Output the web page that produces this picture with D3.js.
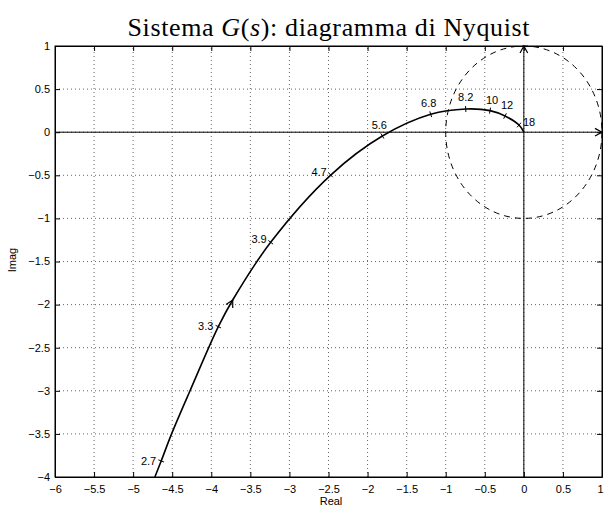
<!DOCTYPE html>
<html>
<head>
<meta charset="utf-8">
<script src="https://cdn.jsdelivr.net/npm/d3@7"></script>
<style>
    body { margin: 0; background: #fff; }
    text { font-family: "Liberation Sans", Arial, sans-serif; }
</style>
</head>
<body>
<div id="chart"></div>
<script>

/*
Data
 */

// frequency marks on the Nyquist curve
var freqLabels = ["2.7", "3.3", "3.9", "4.7", "5.6", "6.8", "8.2", "10", "12", "18"];
var freqRe = [-4.641, -3.910, -3.240, -2.472, -1.811, -1.192, -0.744, -0.433, -0.241, -0.062];
var freqIm = [-3.814, -2.256, -1.277, -0.497, -0.044, 0.208, 0.269, 0.250, 0.188, 0.083];

// points read along the curve itself
var curveRe = [-4.722, -4.641, -4.508, -4.272, -3.910, -3.726, -3.240, -2.472, -1.811, -1.192, -0.744, -0.433, -0.241, -0.062, 0];
var curveIm = [-4, -3.814, -3.5, -3, -2.256, -1.947, -1.277, -0.497, -0.044, 0.208, 0.269, 0.250, 0.188, 0.083, 0];

// direction arrow on the curve
var arrowRe = -3.726;
var arrowIm = -1.947;

var xTicks = [-6, -5.5, -5, -4.5, -4, -3.5, -3, -2.5, -2, -1.5, -1, -0.5, 0, 0.5, 1];
var yTicks = [-4, -3.5, -3, -2.5, -2, -1.5, -1, -0.5, 0, 0.5, 1];

/*
Layout
 */

var W = 604, H = 506;
var margin = {top: 46, right: 2, bottom: 29, left: 55};

var svg = d3.select("#chart")
    .append("svg")
    .attr("width", W)
    .attr("height", H);

var x = d3.scaleLinear().domain([-6, 1]).range([margin.left, W - margin.right]);
var y = d3.scaleLinear().domain([-4, 1]).range([H - margin.bottom, margin.top]);

var fmt = d3.format("~g");

//grid
svg.append("g")
    .selectAll("line")
    .data(xTicks.slice(1, -1))
    .enter()
    .append("line")
    .attr("x1", function(d) { return x(d); })
    .attr("x2", function(d) { return x(d); })
    .attr("y1", y(-4))
    .attr("y2", y(1))
    .style("stroke", "#666")
    .style("stroke-dasharray", "1,3");

svg.append("g")
    .selectAll("line")
    .data(yTicks.slice(1, -1))
    .enter()
    .append("line")
    .attr("y1", function(d) { return y(d); })
    .attr("y2", function(d) { return y(d); })
    .attr("x1", x(-6))
    .attr("x2", x(1))
    .style("stroke", "#666")
    .style("stroke-dasharray", "1,3");

//axes, ticks inward like matlab
var xAxis = svg.append("g")
    .attr("transform", "translate(0," + y(-4) + ")")
    .call(d3.axisBottom(x).tickValues(xTicks).tickFormat(fmt).tickSizeInner(-5).tickSizeOuter(0).tickPadding(8));

var xAxisTop = svg.append("g")
    .attr("transform", "translate(0," + y(1) + ")")
    .call(d3.axisTop(x).tickValues(xTicks).tickFormat("").tickSizeInner(-5).tickSizeOuter(0));

var yAxis = svg.append("g")
    .attr("transform", "translate(" + x(-6) + ",0)")
    .call(d3.axisLeft(y).tickValues(yTicks).tickFormat(fmt).tickSizeInner(-5).tickSizeOuter(0).tickPadding(5));

var yAxisRight = svg.append("g")
    .attr("transform", "translate(" + x(1) + ",0)")
    .call(d3.axisRight(y).tickValues(yTicks).tickFormat("").tickSizeInner(-5).tickSizeOuter(0));

svg.selectAll(".domain").style("stroke", "#000");
svg.selectAll(".tick line").style("stroke", "#000");
svg.selectAll(".tick text")
    .style("font-size", "11px")
    .style("fill", "#000");

yAxis.selectAll(".tick text").attr("dy", "0.3em");
// last label sits on the window edge, nudge it in
xAxis.selectAll(".tick text").filter(function(d) { return d === 1; }).attr("dx", -2);

//real and imaginary axes with arrowheads
svg.append("line")
    .attr("x1", x(-6)).attr("x2", x(1))
    .attr("y1", y(0)).attr("y2", y(0))
    .style("stroke", "#000");

svg.append("line")
    .attr("x1", x(0)).attr("x2", x(0))
    .attr("y1", y(-4)).attr("y2", y(1))
    .style("stroke", "#000");

function drawArrowHead(px, py, angle) {
    var len = 8, spread = 0.5;
    var a1 = angle + Math.PI - spread, a2 = angle + Math.PI + spread;
    svg.append("path")
        .attr("d", "M" + (px + len * Math.cos(a1)) + "," + (py + len * Math.sin(a1)) +
            "L" + px + "," + py +
            "L" + (px + len * Math.cos(a2)) + "," + (py + len * Math.sin(a2)))
        .style("fill", "none")
        .style("stroke", "#000")
        .style("stroke-width", 1.2);
}

drawArrowHead(x(1), y(0), 0);
drawArrowHead(x(0), y(1), -Math.PI / 2);

//unit circle, dashed
svg.append("ellipse")
    .attr("cx", x(0))
    .attr("cy", y(0))
    .attr("rx", x(1) - x(0))
    .attr("ry", y(0) - y(1))
    .style("fill", "none")
    .style("stroke", "#000")
    .style("stroke-dasharray", "6,5");

//nyquist curve
var curveData = curveRe.map(function(d, i) { return [d, curveIm[i]]; });

var line = d3.line()
    .x(function(d) { return x(d[0]); })
    .y(function(d) { return y(d[1]); })
    .curve(d3.curveCatmullRom);

svg.append("path")
    .datum(curveData)
    .attr("d", line)
    .style("fill", "none")
    .style("stroke", "#000")
    .style("stroke-width", 1.6);

//direction arrow on curve (tangent from previous point)
var prevIdx = curveRe.indexOf(arrowRe) - 1;
var arrowAngle = Math.atan2(y(arrowIm) - y(curveIm[prevIdx]), x(arrowRe) - x(curveRe[prevIdx]));
drawArrowHead(x(arrowRe), y(arrowIm), arrowAngle);

//frequency marks
var marks = freqLabels.map(function(d, i) {
    var ci = curveRe.indexOf(freqRe[i]);
    var a = curveData[Math.max(ci - 1, 0)], b = curveData[Math.min(ci + 1, curveData.length - 1)];
    var ang = Math.atan2(y(b[1]) - y(a[1]), x(b[0]) - x(a[0]));
    return {label: d, px: x(freqRe[i]), py: y(freqIm[i]), ang: ang};
});

svg.append("g")
    .selectAll("line")
    .data(marks)
    .enter()
    .append("line")
    .attr("x1", function(d) { return d.px - 3 * Math.sin(d.ang); })
    .attr("y1", function(d) { return d.py + 3 * Math.cos(d.ang); })
    .attr("x2", function(d) { return d.px + 3 * Math.sin(d.ang); })
    .attr("y2", function(d) { return d.py - 3 * Math.cos(d.ang); })
    .style("stroke", "#000");

// label placement: anchor, dx, dy (pixels)
var labelPlace = [
    ["end", -5, 0], ["end", -5, -1], ["end", -4, -3], ["end", -4, -3],
    ["middle", -3, -11], ["middle", -2, -11], ["middle", 0, -12],
    ["middle", 2, -11], ["middle", 2, -11], ["start", 4, -3]
];

svg.append("g")
    .selectAll("text")
    .data(marks)
    .enter()
    .append("text")
    .attr("x", function(d, i) { return d.px + labelPlace[i][1]; })
    .attr("y", function(d, i) { return d.py + labelPlace[i][2]; })
    .attr("dy", "0.35em")
    .attr("text-anchor", function(d, i) { return labelPlace[i][0]; })
    .style("font-size", "11px")
    .style("fill", "#000")
    .text(function(d) { return d.label; });

//plot box
svg.append("rect")
    .attr("x", x(-6))
    .attr("y", y(1))
    .attr("width", x(1) - x(-6))
    .attr("height", y(-4) - y(1))
    .style("fill", "none")
    .style("stroke", "#000");

//axis labels and title
svg.append("text")
    .attr("x", 331)
    .attr("y", 505)
    .attr("text-anchor", "middle")
    .style("font-size", "11px")
    .text("Real");

svg.append("text")
    .attr("transform", "translate(16,260) rotate(-90)")
    .attr("text-anchor", "middle")
    .style("font-size", "11px")
    .text("Imag");

var title = svg.append("text")
    .attr("x", (x(-6) + x(1)) / 2)
    .attr("y", 36)
    .attr("text-anchor", "middle")
    .attr("textLength", 402)
    .attr("lengthAdjust", "spacing")
    .style("font-family", "'Liberation Serif', 'DejaVu Serif', serif")
    .style("font-size", "26px");

title.append("tspan").text("Sistema ");
title.append("tspan").style("font-style", "italic").text("G");
title.append("tspan").text("(");
title.append("tspan").style("font-style", "italic").text("s");
title.append("tspan").text("): diagramma di Nyquist");

</script>
</body>
</html>
